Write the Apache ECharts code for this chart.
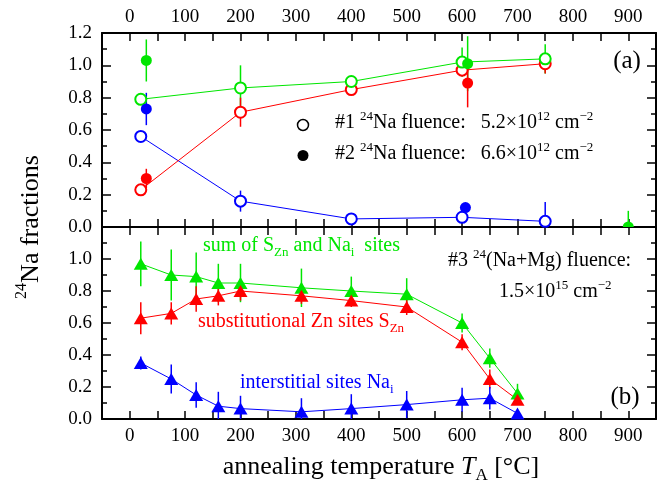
<!DOCTYPE html>
<html><head><meta charset="utf-8">
<script src="https://cdn.jsdelivr.net/npm/echarts@6/dist/echarts.min.js"></script>
<style>html,body{margin:0;padding:0;background:#fff}#c{width:665px;height:491px}</style>
</head><body><div id="c"></div>
<script>
// ---- data ----
const xTicks = [0, 100, 200, 300, 400, 500, 600, 700, 800, 900];
const topYTicks = [0.0, 0.2, 0.4, 0.6, 0.8, 1.0, 1.2];
const botYTicks = [0.0, 0.2, 0.4, 0.6, 0.8, 1.0];

// #1 (open circles)
const s1Temps = [20, 200, 400, 600, 750];
const s1Sum = [0.79, 0.86, 0.90, 1.02, 1.04];
const s1SumErr = [0.02, 0.14, 0.03, 0.09, 0.09];
const s1Sub = [0.23, 0.71, 0.85, 0.97, 1.01];
const s1SubErr = [0.02, 0.09, 0.03, 0.03, 0.06];
const s1Int = [0.56, 0.16, 0.05, 0.06, 0.035];
const s1IntErr = [0.02, 0.065, 0.03, 0.03, 0.12];

// #2 (filled circles)
const s2SumTemps = [30, 610, 900];
const s2Sum = [1.03, 1.01, 0.0];
const s2SumErr = [0.13, 0.17, 0.1];
const s2SubTemps = [30, 610];
const s2Sub = [0.30, 0.89];
const s2SubErr = [0.06, 0.15];
const s2IntTemps = [30, 606];
const s2Int = [0.73, 0.12];
const s2IntErr = [0.10, 0.02];

// #3 (triangles)
const s3Temps = [20, 75, 120, 160, 200, 310, 400, 500, 600, 650, 700];
const s3Sum = [0.97, 0.90, 0.89, 0.85, 0.85, 0.82, 0.80, 0.78, 0.60, 0.38, 0.16];
const s3SumErr = [0.14, 0.16, 0.15, 0.12, 0.12, 0.12, 0.09, 0.10, 0.06, 0.06, 0.06];
const s3Sub = [0.63, 0.66, 0.75, 0.77, 0.80, 0.77, 0.74, 0.70, 0.48, 0.25, 0.12];
const s3SubErr = [0.10, 0.07, 0.08, 0.06, 0.06, 0.05, 0.04, 0.05, 0.05, 0.06, 0.03];
const s3Int = [0.35, 0.25, 0.15, 0.08, 0.065, 0.045, 0.065, 0.09, 0.12, 0.13, 0.035];
const s3IntErr = [0.04, 0.09, 0.08, 0.09, 0.08, 0.085, 0.09, 0.085, 0.075, 0.07, 0.02];

// ---- styles ----
const GREEN = '#00e600', RED = '#ff0000', BLUE = '#0000ff';
const FONT = 'Liberation Serif';

const zip = (xs, ys) => xs.map((x, i) => [x, ys[i]]);
const zip3 = (xs, ys, es) => xs.map((x, i) => [x, ys[i], es[i]]);

function errSeries(xIdx, yIdx, data, color) {
  return {
    type: 'custom', xAxisIndex: xIdx, yAxisIndex: yIdx, clip: true, z: 2,
    data: data,
    renderItem: function (params, api) {
      const x = api.value(0), y = api.value(1), e = api.value(2);
      const p1 = api.coord([x, y - e]), p2 = api.coord([x, y + e]);
      return { type: 'line', shape: { x1: p1[0], y1: p1[1], x2: p2[0], y2: p2[1] },
        style: { stroke: color, lineWidth: 1.5 } };
    }
  };
}
function lineSeries(xIdx, yIdx, data, color, symbol, size, z) {
  return {
    type: 'line', xAxisIndex: xIdx, yAxisIndex: yIdx, data: data, z: z || 3,
    symbol: symbol, symbolSize: size, showAllSymbol: true,
    lineStyle: { color: color, width: 1 },
    itemStyle: symbol === 'emptyCircle' ? { color: color, borderColor: color, borderWidth: 1.5 } : { color: color },
    emphasis: { disabled: true }, animation: false
  };
}
function scatterSeries(xIdx, yIdx, data, color, z) {
  return {
    type: 'scatter', xAxisIndex: xIdx, yAxisIndex: yIdx, data: data, z: z || 4,
    symbol: 'circle', symbolSize: 11, itemStyle: { color: color, opacity: 1 },
    emphasis: { disabled: true }, animation: false
  };
}

const tickStyle = { color: '#000', width: 1.5 };
const axLine = { show: true, onZero: false, lineStyle: { color: '#000', width: 2 } };
const lab = { fontFamily: FONT, fontSize: 19, color: '#000' };

function xAxis(gridIndex, position, showLabel) {
  return {
    type: 'value', gridIndex: gridIndex, position: position, min: -50, max: 950, interval: 50,
    axisLine: axLine,
    axisTick: { show: true, inside: true, length: 8, lineStyle: tickStyle },
    axisLabel: Object.assign({ show: showLabel, margin: position === 'top' ? 6 : 8, showMinLabel: false, showMaxLabel: false,
      formatter: v => (xTicks.indexOf(v) >= 0 ? String(v) : '') }, lab),
    splitLine: { show: false }
  };
}
function yAxis(gridIndex, position, showLabel, ticks) {
  return {
    type: 'value', gridIndex: gridIndex, position: position, min: 0, max: 1.2, interval: 0.2,
    axisLine: axLine,
    axisTick: { show: true, inside: true, length: 9, lineStyle: tickStyle },
    minorTick: { show: true, splitNumber: 2, length: 5, lineStyle: tickStyle },
    axisLabel: Object.assign({ show: showLabel, margin: 10,
      formatter: v => { const t = ticks.find(a => Math.abs(a - v) < 1e-6); return t === undefined ? '' : t.toFixed(1); } }, lab),
    splitLine: { show: false }
  };
}

const green900 = zip(s2SumTemps, s2Sum).map(p => p[0] === 900 ? {
  value: p, symbol: 'path://M0,10 A10,10 0 0 1 20,10 Z', symbolSize: [11, 5.5], symbolOffset: [0, '-50%'] } : p);

const series = [
  // top: error bars
  errSeries(0, 0, zip3(s1Temps, s1Sum, s1SumErr), GREEN),
  errSeries(0, 0, zip3(s1Temps, s1Sub, s1SubErr), RED),
  errSeries(0, 0, zip3(s1Temps, s1Int, s1IntErr), BLUE),
  errSeries(0, 0, zip3(s2SumTemps, s2Sum, s2SumErr), GREEN),
  errSeries(0, 0, zip3(s2SubTemps, s2Sub, s2SubErr), RED),
  errSeries(0, 0, zip3(s2IntTemps, s2Int, s2IntErr), BLUE),
  // top: #1 lines
  lineSeries(0, 0, zip(s1Temps, s1Int), BLUE, 'emptyCircle', 11, 3),
  lineSeries(0, 0, zip(s1Temps, s1Sub), RED, 'emptyCircle', 11, 3),
  lineSeries(0, 0, zip(s1Temps, s1Sum), GREEN, 'emptyCircle', 11, 3),
  // top: #2 filled
  scatterSeries(0, 0, green900, GREEN),
  scatterSeries(0, 0, zip(s2SubTemps, s2Sub), RED),
  scatterSeries(0, 0, zip(s2IntTemps, s2Int), BLUE),
  // bottom
  errSeries(2, 2, zip3(s3Temps, s3Sum, s3SumErr), GREEN),
  errSeries(2, 2, zip3(s3Temps, s3Sub, s3SubErr), RED),
  errSeries(2, 2, zip3(s3Temps, s3Int, s3IntErr), BLUE),
  lineSeries(2, 2, zip(s3Temps, s3Sum), GREEN, 'triangle', [14, 12], 3),
  lineSeries(2, 2, zip(s3Temps, s3Sub), RED, 'triangle', [14, 12], 3),
  lineSeries(2, 2, zip(s3Temps, s3Int), BLUE, 'triangle', [14, 12], 3)
];

function rich(color, size, subSize) {
  const fs = size || 20;
  const ss = subSize || Math.round(fs * 0.65);
  return {
    n: { fontFamily: FONT, fontSize: fs, color: color, lineHeight: Math.round(fs * 1.3), verticalAlign: 'middle' },
    i: { fontFamily: FONT, fontSize: fs, color: color, lineHeight: Math.round(fs * 1.3), fontStyle: 'italic', verticalAlign: 'middle' },
    sup: { fontFamily: FONT, fontSize: ss, color: color, lineHeight: ss, verticalAlign: 'top' },
    sub: { fontFamily: FONT, fontSize: ss, color: color, lineHeight: ss, verticalAlign: 'bottom' }
  };
}
function txt(x, y, text, color, size, align, subSize) {
  return {
    type: 'text', x: x, y: y, z: 10,
    style: { text: text, rich: rich(color, size || 20, subSize), fill: color, fontFamily: FONT, fontSize: size || 20,
      align: align || 'left', verticalAlign: 'middle' }
  };
}

const graphic = [
  { type: 'text', x: 627, y: 61, z: 10, style: { text: '(a)', fontFamily: FONT, fontSize: 25, fill: '#000', align: 'center', verticalAlign: 'middle' } },
  { type: 'text', x: 625, y: 397, z: 10, style: { text: '(b)', fontFamily: FONT, fontSize: 25, fill: '#000', align: 'center', verticalAlign: 'middle' } },
  { type: 'circle', shape: { cx: 303, cy: 125, r: 5.5 }, style: { fill: '#fff', stroke: '#000', lineWidth: 1.5 }, z: 10 },
  { type: 'circle', shape: { cx: 303, cy: 155.5, r: 5.5 }, style: { fill: '#000' }, z: 10 },
  txt(335, 123, '{n|#1 }{sup|24}{n|Na fluence:   5.2×10}{sup|12}{n| cm}{sup|−2}', '#000'),
  txt(335, 154, '{n|#2 }{sup|24}{n|Na fluence:   6.6×10}{sup|12}{n| cm}{sup|−2}', '#000'),
  txt(203, 246, '{n|sum of S}{sub|Zn}{n| and Na}{sub|i}{n|  sites}', GREEN),
  txt(448, 261, '{n|#3 }{sup|24}{n|(Na+Mg) fluence:}', '#000'),
  txt(499, 292, '{n|1.5×10}{sup|15}{n| cm}{sup|−2}', '#000'),
  txt(198, 322, '{n|substitutional Zn sites S}{sub|Zn}', RED),
  txt(240, 383, '{n|interstitial sites Na}{sub|i}', BLUE),
  txt(381, 467, '{n|annealing temperature }{i|T}{sub|A}{n| [°C]}', '#000', 26, 'center', 17),
  Object.assign(txt(31, 227, '{sup|24}{n|Na fractions}', '#000', 26, 'center', 16), { rotation: Math.PI / 2 })
];

const chart = echarts.init(document.getElementById('c'), null, { renderer: 'canvas' });
chart.setOption({
  backgroundColor: '#fff',
  animation: false,
  grid: [
    { left: 102, top: 33, right: 9, height: 194 },
    { left: 102, top: 227, right: 9, height: 192 }
  ],
  xAxis: [
    xAxis(0, 'top', true),
    xAxis(0, 'bottom', false),
    xAxis(1, 'bottom', true),
    xAxis(1, 'top', false)
  ],
  yAxis: [
    yAxis(0, 'left', true, topYTicks),
    yAxis(0, 'right', false, topYTicks),
    yAxis(1, 'left', true, botYTicks),
    yAxis(1, 'right', false, botYTicks)
  ],
  series: series,
  graphic: graphic
});
</script></body></html>
